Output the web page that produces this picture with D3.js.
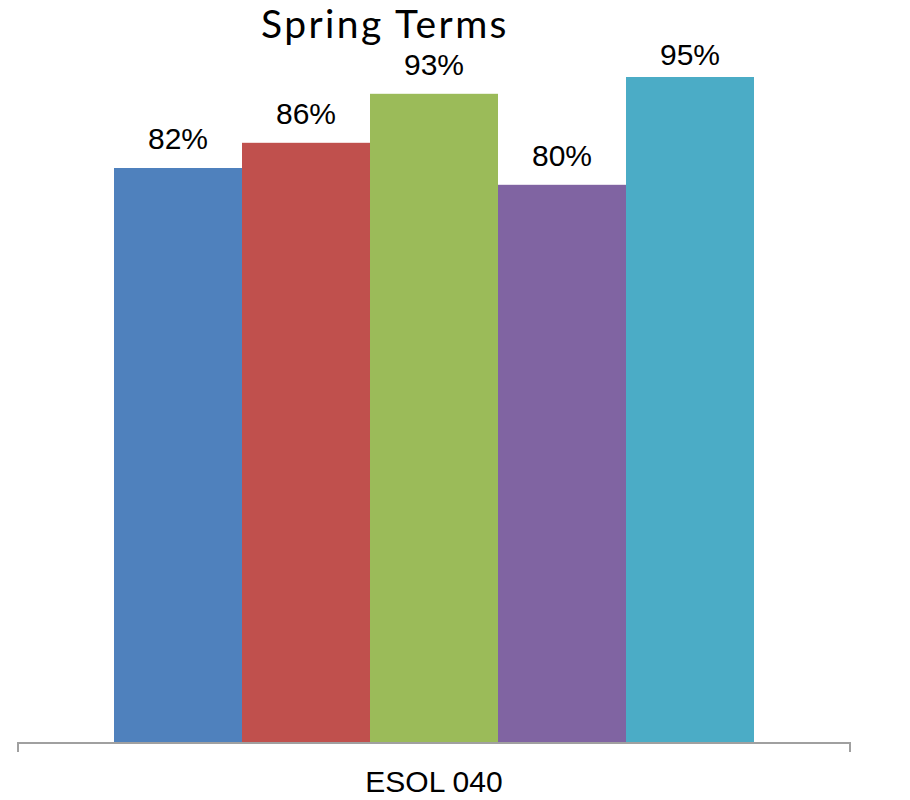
<!DOCTYPE html>
<html>
<head>
<meta charset="utf-8">
<script src="https://cdn.jsdelivr.net/npm/d3@7"></script>
<style>
  body { margin: 0; background: #fff; }
  text { font-family: "Liberation Sans", Arial, sans-serif; }
</style>
</head>
<body>
<svg id="chart"></svg>
<script>
// chart data (labels are rounded)
var categories = ["ESOL 040"];
var seriesNames = ["S1", "S2", "S3", "S4", "S5"];
var seriesValues = [0.82, 0.856, 0.926, 0.796, 0.95];
var seriesColors = ["#4F81BD", "#C0504D", "#9BBB59", "#8064A2", "#4BACC6"];
var chartTitle = "Spring Terms";

var width = 910, height = 800;
var margin = { top: 42, right: 60, bottom: 58, left: 18 };

var svg = d3.select("#chart")
	.attr("width", width)
	.attr("height", height);

// scales
var x0 = d3.scaleBand()
	.domain(categories)
	.range([margin.left, width - margin.right])
	.padding(0);

var x1 = d3.scaleBand()
	.domain(seriesNames)
	.range([0, x0.bandwidth()])
	.paddingInner(0)
	.paddingOuter(0.75);

var y = d3.scaleLinear()
	.domain([0, 1])
	.range([height - margin.bottom, margin.top]);

var fmt = d3.format(".0%");

var data = seriesNames.map(function (s, i) {
	return { name: s, value: seriesValues[i], color: seriesColors[i], cat: categories[0] };
});

// bars
svg.append("g").selectAll("rect")
	.data(data)
	.enter().append("rect")
	.attr("x", function (d) { return x0(d.cat) + x1(d.name); })
	.attr("y", function (d) { return y(d.value); })
	.attr("width", x1.bandwidth())
	.attr("height", function (d) { return y(0) - y(d.value); })
	.style("fill", function (d) { return d.color; });

// value labels (kept inside the chart area at the top)
svg.append("g").selectAll("text")
	.data(data)
	.enter().append("text")
	.attr("x", function (d) { return x0(d.cat) + x1(d.name) + x1.bandwidth() / 2; })
	.attr("y", function (d) { return Math.max(y(d.value) - 19, 65); })
	.attr("text-anchor", "middle")
	.style("font-size", "30px")
	.style("fill", "#000")
	.text(function (d) { return fmt(d.value); });

// category axis
var xAxis = d3.axisBottom(x0).tickSize(0).tickPadding(0).tickFormat("");
var axisG = svg.append("g")
	.attr("transform", "translate(0," + y(0) + ")")
	.call(xAxis);
axisG.select(".domain").remove();
axisG.append("path")
	.attr("d", "M" + x0.range()[0] + ",10V1H" + x0.range()[1] + "V10")
	.attr("fill", "none")
	.attr("stroke", "#a0a0a0")
	.attr("stroke-width", 2);

axisG.selectAll(".tick").append("text")
	.attr("y", 50)
	.attr("text-anchor", "middle")
	.style("font-size", "30px")
	.style("fill", "#000")
	.text(function (d) { return d; });

// title
svg.append("text")
	.attr("x", 385)
	.attr("y", 38)
	.attr("text-anchor", "middle")
	.style("font-family", "Lato, 'Open Sans', sans-serif")
	.style("font-size", "39px")
	.style("letter-spacing", "2.4px")
	.style("fill", "#000")
	.text(chartTitle);
</script>
</body>
</html>
